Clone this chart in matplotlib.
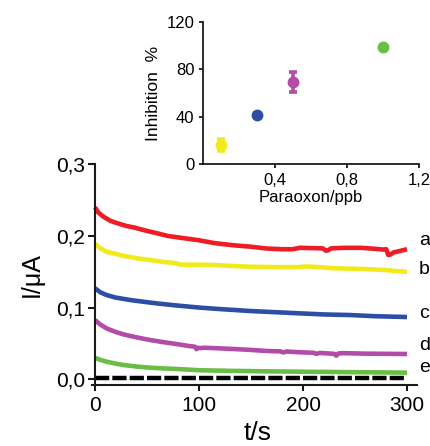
import matplotlib
matplotlib.use("Agg")
import matplotlib.pyplot as plt
from matplotlib.ticker import FuncFormatter

plt.rcParams['font.family'] = ['Liberation Sans', 'DejaVu Sans']

# ---- main chart data (time in s, current in uA) ----
t_a = [0, 3, 8, 15, 21, 30, 37, 50, 59, 70, 85, 100, 115, 133, 150, 165, 180, 190, 197,
       210, 219, 222, 224, 227, 240, 255, 270, 277, 280, 282, 284, 287, 293, 300]
i_a = [0.240, 0.233, 0.227, 0.221, 0.218, 0.214, 0.212, 0.207, 0.204, 0.200, 0.197, 0.194,
       0.190, 0.187, 0.185, 0.1825, 0.1815, 0.1815, 0.1835, 0.183, 0.1827, 0.1795, 0.180,
       0.1827, 0.1835, 0.1835, 0.182, 0.181, 0.1815, 0.1735, 0.174, 0.177, 0.179, 0.1815]

t_b = [0, 5, 11, 20, 27, 40, 53, 65, 78, 80, 82, 100, 120, 149, 175, 195, 203, 210, 229,
       261, 280, 290, 300]
i_b = [0.189, 0.183, 0.178, 0.175, 0.1724, 0.169, 0.1664, 0.164, 0.1618, 0.161, 0.1600,
       0.1600, 0.159, 0.157, 0.1565, 0.1565, 0.1575, 0.157, 0.155, 0.1538, 0.1524, 0.151, 0.150]

t_c = [0, 5, 11, 20, 34, 45, 59, 75, 91, 101, 120, 149, 175, 197, 220, 245, 270, 300]
i_c = [0.127, 0.1215, 0.1176, 0.114, 0.1106, 0.1085, 0.106, 0.1035, 0.1013, 0.100, 0.098,
       0.0953, 0.0935, 0.092, 0.0905, 0.0897, 0.088, 0.0869]

t_d = [0, 5, 11, 20, 27, 40, 53, 65, 78.5, 90, 96, 97.5, 99, 101, 105, 120, 133, 150, 165,
       178, 181, 184, 197, 210, 213, 216, 225, 230, 232, 234, 239, 260, 300]
i_d = [0.0827, 0.0765, 0.0711, 0.066, 0.0628, 0.0585, 0.0548, 0.052, 0.0492, 0.0465, 0.0455,
       0.0420, 0.0440, 0.0436, 0.0440, 0.0432, 0.0423, 0.041, 0.0395, 0.0390, 0.0375, 0.0388,
       0.0377, 0.037, 0.0355, 0.0368, 0.0360, 0.0355, 0.0330, 0.0360, 0.0365, 0.0358, 0.0353]

t_e = [0, 5, 11, 20, 27, 40, 53, 65, 78.5, 101, 130, 160, 197, 250, 300]
i_e = [0.030, 0.0272, 0.0246, 0.0218, 0.020, 0.0178, 0.0162, 0.0152, 0.0144, 0.0126, 0.0118,
       0.0112, 0.0106, 0.0099, 0.0093]

t_blank = [0, 300]
i_blank = [0.0022, 0.0022]

curve_labels = ['a', 'b', 'c', 'd', 'e']
label_y = [0.1873, 0.1476, 0.0851, 0.0409, 0.0106]

# ---- inset data ----
conc = [0.1, 0.3, 0.5, 1.0]
inhib = [16.2, 41.5, 69.0, 98.5]
inhib_err = [5.0, 1.5, 8.5, 1.5]

RED = '#ee1c24'
YELLOW = '#f2ea1c'
BLUE = '#2e4ea6'
MAGENTA = '#b24ca8'
GREEN = '#6abd45'
inset_colors = [YELLOW, BLUE, MAGENTA, GREEN]
SPINE = '#1a1a1a'

fig = plt.figure(figsize=(4.31, 4.46), dpi=100)
W, H = 431.0, 446.0

# main axes
ax = fig.add_axes([91.7 / W, 1 - 385 / H, (417 - 91.7) / W, (385 - 164.3) / H])
lw = 3.3
for t, i, c in [(t_a, i_a, RED), (t_b, i_b, YELLOW), (t_c, i_c, BLUE),
                (t_d, i_d, MAGENTA), (t_e, i_e, GREEN)]:
    ax.plot(t, i, color=c, lw=lw, solid_capstyle='butt', solid_joinstyle='round')
ax.plot(t_blank, i_blank, color='black', lw=3.2, dashes=(3.2, 0.7), dash_capstyle='butt')

ax.set_xlim(-3.2, 309.6)
ax.set_ylim(-0.00795, 0.3)
ax.spines['top'].set_visible(False)
ax.spines['right'].set_visible(False)
ax.spines['left'].set_position(('data', 0))
for s in ['left', 'bottom']:
    ax.spines[s].set_linewidth(1.5)
    ax.spines[s].set_color(SPINE)
ax.spines['left'].set_bounds(-0.00795, 0.3)

ax.set_xticks([0, 100, 200, 300])
ax.set_yticks([0.0, 0.1, 0.2, 0.3])
ax.yaxis.set_major_formatter(FuncFormatter(lambda v, p: f"{v:.1f}".replace('.', ',')))
ax.tick_params(axis='y', direction='out', length=5, width=1.5, color=SPINE,
               labelsize=15, pad=2)
ax.tick_params(axis='x', direction='out', length=4, width=1.5, color=SPINE,
               labelsize=15, pad=4)

ax.set_xlabel('t/s', fontsize=19)
ax.xaxis.set_label_coords(0.5 + (258 - 254.4) / 325.3, -(440 - 385) / 220.7)
ax.xaxis.label.set_va('baseline')
ax.set_ylabel('I/\u03bcA', fontsize=18)
ax.yaxis.set_label_coords((31.7 - 91.7) / 325.3, 0.5)
ax.yaxis.label.set_va('center')

for lab, y in zip(curve_labels, label_y):
    ax.text(311.5, y, lab, fontsize=14, ha='left', va='baseline', clip_on=False)

# inset axes
ax2 = fig.add_axes([202.7 / W, 1 - 164.3 / H, (419.3 - 202.7) / W, (164.3 - 21.7) / H])
ax2.patch.set_alpha(0)
for x, y, e, c in zip(conc, inhib, inhib_err, inset_colors):
    ax2.errorbar([x], [y], yerr=[e], fmt='o', color=c, ms=7.5, mec=c,
                 elinewidth=2.6, capsize=3, capthick=2.6)
ax2.set_xlim(0, 1.2)
ax2.set_ylim(0, 120)
ax2.spines['top'].set_visible(False)
ax2.spines['right'].set_visible(False)
for s in ['left', 'bottom']:
    ax2.spines[s].set_linewidth(1.3)
    ax2.spines[s].set_color(SPINE)
ax2.set_xticks([0.4, 0.8, 1.2])
ax2.set_yticks([0, 40, 80, 120])
ax2.xaxis.set_major_formatter(FuncFormatter(lambda v, p: f"{v:.1f}".replace('.', ',')))
ax2.yaxis.set_major_formatter(FuncFormatter(lambda v, p: f"{v:.0f}"))
ax2.tick_params(axis='both', direction='out', length=3, width=1.3, color=SPINE,
                labelsize=12, pad=3)
ax2.set_xlabel('Paraoxon/ppb', fontsize=12, labelpad=2)
ax2.set_ylabel('Inhibition  %', fontsize=12.5, labelpad=4)

fig.savefig('out.png', dpi=100)
